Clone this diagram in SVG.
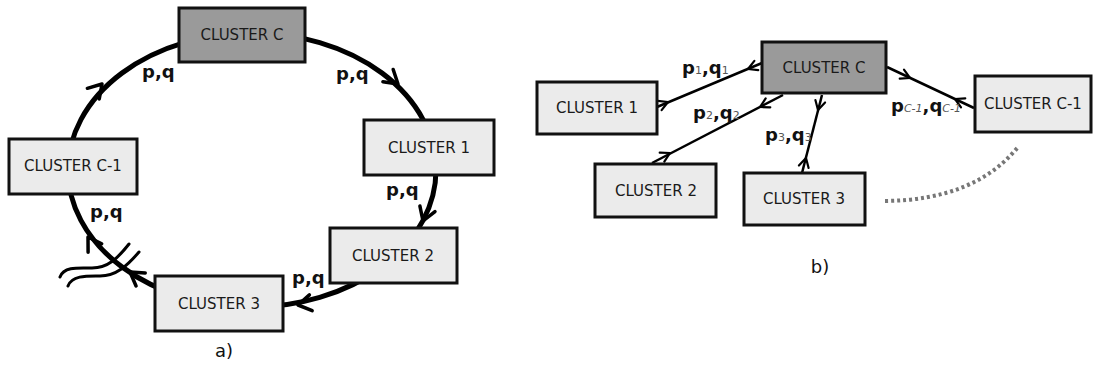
<svg xmlns="http://www.w3.org/2000/svg" width="1098" height="366" viewBox="0 0 1098 366">
<style>
.box{fill:#ebebeb;stroke:#111;stroke-width:3}
.dark{fill:#9a9a9a}
.lbl{font-family:"DejaVu Sans",Verdana,sans-serif;font-size:15px;fill:#1a1a1a;text-anchor:middle}
.pq{font-family:"DejaVu Sans",Verdana,sans-serif;font-size:18px;font-weight:bold;fill:#111}
.sub{font-size:11px;font-weight:normal;fill:#555}
.cap{font-family:"DejaVu Sans",Verdana,sans-serif;font-size:18px;fill:#111;text-anchor:middle}
.ring{fill:none;stroke:#000;stroke-width:5}
.link{fill:none;stroke:#000;stroke-width:2.5}
.chevB{fill:none;stroke:#000;stroke-width:3.5;stroke-linecap:round;stroke-linejoin:round}
.chevS{fill:none;stroke:#000;stroke-width:2.2;stroke-linecap:round;stroke-linejoin:round}
</style>
<defs>
<path id="cb" d="M-13,-8 L0,0 L-13,8"/>
<path id="cs" d="M-9,-5 L0,0 L-9,5"/>
</defs>
<g id="connectors">
<ellipse class="ring" cx="252" cy="170" rx="184" ry="137"/>
<g class="chevB">
<use href="#cb" transform="translate(398,84) rotate(40)"/>
<use href="#cb" transform="translate(423,221) rotate(110)"/>
<use href="#cb" transform="translate(298,305) rotate(170)"/>
<use href="#cb" transform="translate(130,272) rotate(215)"/>
<use href="#cb" transform="translate(88,237) rotate(-122)"/>
<use href="#cb" transform="translate(102,84) rotate(-48)"/>
</g>
<g fill="none" stroke="#000" stroke-width="3" stroke-linecap="round">
<path d="M60,277 C64,266 80,268 92,268 C108,268 118,258 129,244"/>
<path d="M68,286 C72,275 88,276 100,276 C116,276 127,266 139,252"/>
</g>
<path class="link" d="M762,63 L657,107"/>
<path class="link" d="M783,95 L652,163"/>
<path class="link" d="M822,95 L802,173"/>
<path class="link" d="M887,67 L974,108"/>
<g class="chevS">
<use href="#cs" transform="translate(748,69) rotate(157.3)"/>
<use href="#cs" transform="translate(668,102) rotate(-22.7)"/>
<use href="#cs" transform="translate(760,107) rotate(152.6)"/>
<use href="#cs" transform="translate(670,153) rotate(-27.4)"/>
<use href="#cs" transform="translate(818,110) rotate(104.4)"/>
<use href="#cs" transform="translate(806,158) rotate(-75.6)"/>
<use href="#cs" transform="translate(910,78) rotate(25.2)"/>
<use href="#cs" transform="translate(955,99) rotate(205.2)"/>
</g>
<path d="M885,201 Q975,200 1018,147" fill="none" stroke="#777" stroke-width="4" stroke-dasharray="3,3"/>
</g>
<g id="a-clusterC"><rect class="box dark" x="179" y="8" width="126" height="54"/><text class="lbl" x="242" y="40">CLUSTER C</text></g>
<g id="a-cluster1"><rect class="box" x="364" y="120" width="130" height="55"/><text class="lbl" x="429" y="153">CLUSTER 1</text></g>
<g id="a-cluster2"><rect class="box" x="330" y="228" width="127" height="55"/><text class="lbl" x="393" y="261">CLUSTER 2</text></g>
<g id="a-cluster3"><rect class="box" x="155" y="276" width="128" height="55"/><text class="lbl" x="219" y="309">CLUSTER 3</text></g>
<g id="a-clusterC1"><rect class="box" x="9" y="139" width="128" height="55"/><text class="lbl" x="73" y="171">CLUSTER C-1</text></g>
<g id="a-labels">
<text class="pq" x="142" y="78">p,q</text>
<text class="pq" x="336" y="80">p,q</text>
<text class="pq" x="386" y="196">p,q</text>
<text class="pq" x="292" y="284">p,q</text>
<text class="pq" x="90" y="218">p,q</text>
<text class="cap" x="224" y="357">a)</text>
</g>
<g id="b-clusterC"><rect class="box dark" x="762" y="42" width="124" height="51"/><text class="lbl" x="824" y="73">CLUSTER C</text></g>
<g id="b-cluster1"><rect class="box" x="537" y="82" width="120" height="52"/><text class="lbl" x="597" y="113">CLUSTER 1</text></g>
<g id="b-cluster2"><rect class="box" x="595" y="164" width="121" height="53"/><text class="lbl" x="656" y="196">CLUSTER 2</text></g>
<g id="b-cluster3"><rect class="box" x="744" y="173" width="121" height="52"/><text class="lbl" x="804" y="204">CLUSTER 3</text></g>
<g id="b-clusterC1"><rect class="box" x="975" y="76" width="116" height="56"/><text class="lbl" x="1033" y="109">CLUSTER C-1</text></g>
<g id="b-labels">
<text class="pq" x="682" y="74">p<tspan class="sub">1</tspan>,q<tspan class="sub">1</tspan></text>
<text class="pq" x="693" y="119">p<tspan class="sub">2</tspan>,q<tspan class="sub">2</tspan></text>
<text class="pq" x="765" y="141">p<tspan class="sub">3</tspan>,q<tspan class="sub">3</tspan></text>
<text class="pq" x="891" y="112">p<tspan class="sub" font-style="italic">C-1</tspan>,q<tspan class="sub" font-style="italic">C-1</tspan></text>
<text class="cap" x="820" y="273">b)</text>
</g>
</svg>
